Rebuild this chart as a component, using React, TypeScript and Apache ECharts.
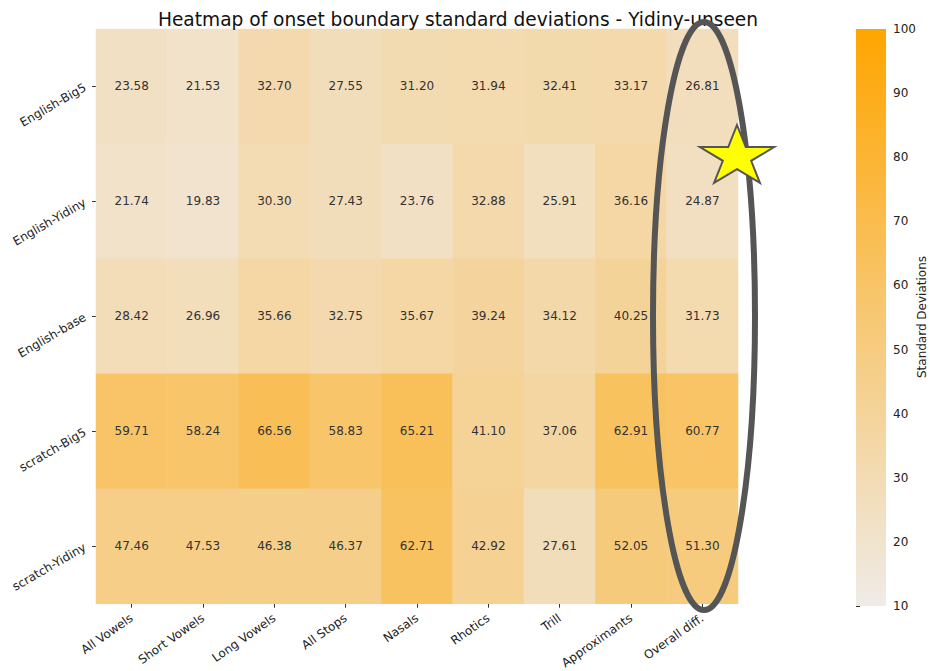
import React, { useEffect, useRef } from "react";
import * as echarts from "echarts";

const models = ["English-Big5", "English-Yidiny", "English-base", "scratch-Big5", "scratch-Yidiny"];
const phonemeClasses = [
  "All Vowels",
  "Short Vowels",
  "Long Vowels",
  "All Stops",
  "Nasals",
  "Rhotics",
  "Trill",
  "Approximants",
  "Overall diff.",
];
const englishBig5 = [23.58, 21.53, 32.7, 27.55, 31.2, 31.94, 32.41, 33.17, 26.81];
const englishYidiny = [21.74, 19.83, 30.3, 27.43, 23.76, 32.88, 25.91, 36.16, 24.87];
const englishBase = [28.42, 26.96, 35.66, 32.75, 35.67, 39.24, 34.12, 40.25, 31.73];
const scratchBig5 = [59.71, 58.24, 66.56, 58.83, 65.21, 41.1, 37.06, 62.91, 60.77];
const scratchYidiny = [47.46, 47.53, 46.38, 46.37, 62.71, 42.92, 27.61, 52.05, 51.3];

const rows = [englishBig5, englishYidiny, englishBase, scratchBig5, scratchYidiny];
const LOW = "#efebe7";
const HIGH = "#ffa500";
const FONT = "DejaVu Sans";

// Five-pointed star, stretched independently along x and y
function starPoints(cx: number, cy: number, rx: number, ry: number, ratio: number): number[][] {
  const pts: number[][] = [];
  for (let i = 0; i < 10; i++) {
    const k = i % 2 === 0 ? 1 : ratio;
    const a = -Math.PI / 2 + (i * Math.PI) / 5;
    pts.push([cx + rx * k * Math.cos(a), cy + ry * k * Math.sin(a)]);
  }
  return pts;
}

export default function App() {
  const ref = useRef<HTMLDivElement>(null);
  useEffect(() => {
    if (!ref.current) return;
    const chart = echarts.init(ref.current, undefined, { renderer: "svg" });
    const data: [number, number, number][] = [];
    rows.forEach((vals, yi) => vals.forEach((v, xi) => data.push([xi, yi, v])));

    chart.setOption({
      animation: false,
      textStyle: { fontFamily: FONT },
      title: {
        text: "Heatmap of onset boundary standard deviations - Yidiny-unseen",
        left: 453,
        top: 5,
        textAlign: "center",
        textStyle: { fontSize: 18.6, fontWeight: "normal", color: "#111", fontFamily: FONT },
      },
      grid: [
        { left: 96, top: 29, width: 642, height: 577 },
        { left: 856, top: 29, width: 30, height: 577 },
      ],
      xAxis: [
        {
          type: "category",
          data: phonemeClasses,
          gridIndex: 0,
          axisLine: { show: false },
          axisTick: { show: true, alignWithLabel: true, length: 4, lineStyle: { color: "#333" } },
          axisLabel: { rotate: 35, fontSize: 12, color: "#222", margin: 13, interval: 0 },
          splitLine: { show: false },
        },
        { type: "value", gridIndex: 1, show: false, min: 0, max: 1 },
      ],
      yAxis: [
        {
          type: "category",
          data: models,
          inverse: true,
          gridIndex: 0,
          axisLine: { show: false },
          axisTick: { show: true, alignWithLabel: true, length: 4, lineStyle: { color: "#333" } },
          axisLabel: { rotate: 30, fontSize: 12, color: "#222", margin: 11, interval: 0 },
          splitLine: { show: false },
        },
        {
          type: "value",
          gridIndex: 1,
          min: 10,
          max: 100,
          interval: 10,
          position: "right",
          axisLine: { show: false },
          axisTick: { show: true, length: 4, lineStyle: { color: "#333" } },
          axisLabel: { fontSize: 12, color: "#222", margin: 7 },
          splitLine: { show: false },
        },
      ],
      visualMap: {
        show: false,
        min: 10,
        max: 100,
        seriesIndex: 0,
        inRange: { color: [LOW, HIGH] },
      },
      series: [
        {
          type: "heatmap",
          xAxisIndex: 0,
          yAxisIndex: 0,
          data,
          label: {
            show: true,
            color: "#333",
            fontSize: 12,
            formatter: (p: any) => p.value[2].toFixed(2),
          },
          itemStyle: { borderWidth: 0 },
          emphasis: { disabled: true },
        },
      ],
      graphic: [
        {
          type: "rect",
          shape: { x: 856, y: 29, width: 30, height: 577 },
          style: {
            fill: new echarts.graphic.LinearGradient(0, 0, 0, 1, [
              { offset: 0, color: HIGH },
              { offset: 1, color: LOW },
            ]),
          },
          z: 1,
        },
        {
          type: "text",
          x: 922,
          y: 317,
          rotation: Math.PI / 2,
          style: {
            text: "Standard Deviations",
            fontSize: 12,
            fontFamily: FONT,
            fill: "#222",
            textAlign: "center",
            textVerticalAlign: "middle",
          },
          z: 5,
        },
        {
          type: "ellipse",
          shape: { cx: 704, cy: 316, rx: 51, ry: 294 },
          style: { fill: "none", stroke: "#555555", lineWidth: 6 },
          z: 10,
        },
        {
          type: "polygon",
          shape: { points: starPoints(737, 157, 39, 32, 0.382) },
          style: { fill: "#ffff00", stroke: "#555555", lineWidth: 2 },
          z: 11,
        },
      ],
    });
    return () => chart.dispose();
  }, []);
  return (
    <div
      ref={ref}
      style={{ position: "fixed", left: 0, top: 0, width: 930, height: 671, background: "#ffffff" }}
    />
  );
}
